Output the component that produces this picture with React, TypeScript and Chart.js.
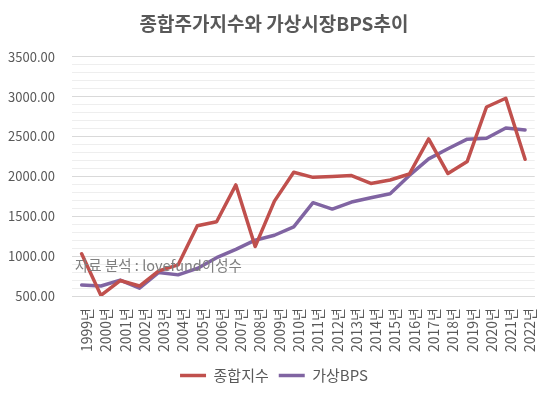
import React, { useEffect, useRef } from "react";
import { Chart, registerables } from "chart.js";

Chart.register(...registerables);

const years = ["1999년","2000년","2001년","2002년","2003년","2004년","2005년","2006년","2007년","2008년","2009년","2010년","2011년","2012년","2013년","2014년","2015년","2016년","2017년","2018년","2019년","2020년","2021년","2022년"];
const kospi = [1030, 508, 694, 625, 815, 890, 1382, 1432, 1893, 1120, 1690, 2052, 1988, 1998, 2010, 1912, 1955, 2030, 2470, 2036, 2188, 2870, 2980, 2215];
const bps = [637, 625, 700, 598, 796, 765, 846, 980, 1085, 1200, 1262, 1367, 1670, 1590, 1678, 1733, 1783, 2012, 2220, 2346, 2467, 2478, 2608, 2583];
const titleText = "종합주가지수와 가상시장BPS추이";
const noteText = "자료 분석 : lovefund이성수";
const FONT = "'Noto Sans CJK KR', 'Noto Sans', sans-serif";

const notePlugin = {
  id: "note",
  afterDatasetsDraw(chart: any) {
    const ctx = chart.ctx;
    const area = chart.chartArea;
    ctx.save();
    ctx.font = `14.5px ${FONT}`;
    ctx.fillStyle = "#7F7F7F";
    ctx.textAlign = "left";
    ctx.textBaseline = "middle";
    ctx.fillText(noteText, area.left + 3, 265);
    ctx.restore();
  },
};

export default function App() {
  const ref = useRef<HTMLCanvasElement>(null);
  useEffect(() => {
    document.body.style.margin = "0";
    const chart = new Chart(ref.current!, {
      type: "line",
      data: {
        labels: years,
        datasets: [
          { label: "종합지수", data: kospi, borderColor: "#C0504D", backgroundColor: "#C0504D", borderWidth: 3.5, pointRadius: 0, tension: 0, borderJoinStyle: "round", borderCapStyle: "round" },
          { label: "가상BPS", data: bps, borderColor: "#8064A2", backgroundColor: "#8064A2", borderWidth: 3.5, pointRadius: 0, tension: 0, borderJoinStyle: "round", borderCapStyle: "round" },
        ],
      },
      options: {
        animation: false,
        responsive: false,
        layout: { padding: { left: 0, right: 6, top: 0, bottom: 0 } },
        plugins: {
          title: { display: true, text: titleText, color: "#595959", font: { family: FONT, size: 19, weight: "bold" }, padding: { top: 12, bottom: 22 } },
          legend: {
            position: "bottom",
            labels: { usePointStyle: true, pointStyle: "line", pointStyleWidth: 26, color: "#595959", font: { family: FONT, size: 15 }, padding: 10 },
          },
          tooltip: { enabled: false },
        },
        scales: {
          x: {
            offset: true,
            grid: { display: false, drawTicks: false },
            border: { display: true, color: "#D9D9D9" },
            ticks: { color: "#595959", font: { family: FONT, size: 14 }, minRotation: 90, maxRotation: 90, autoSkip: false, padding: 12, labelOffset: 5 },
            afterFit(scale: any) { scale.height = 62; },
          },
          y: {
            min: 500,
            max: 3500,
            border: { display: false },
            grid: {
              drawTicks: false,
              color: (c: any) => (c.tick && c.tick.value % 500 === 0 ? "#D9D9D9" : "#EEEEEE"),
              lineWidth: 1,
            },
            ticks: {
              stepSize: 100,
              autoSkip: false,
              color: "#595959",
              font: { family: FONT, size: 13 },
              padding: 17,
              callback: (v: any) => (Number(v) % 500 === 0 ? Number(v).toFixed(2) : ""),
            },
            afterFit(scale: any) { scale.width = 72; },
          },
        },
      },
      plugins: [notePlugin],
    } as any);
    return () => chart.destroy();
  }, []);
  return (
    <div style={{ width: 554, height: 393 }}>
      <canvas ref={ref} width={554} height={393} style={{ width: 554, height: 393 }} />
    </div>
  );
}
